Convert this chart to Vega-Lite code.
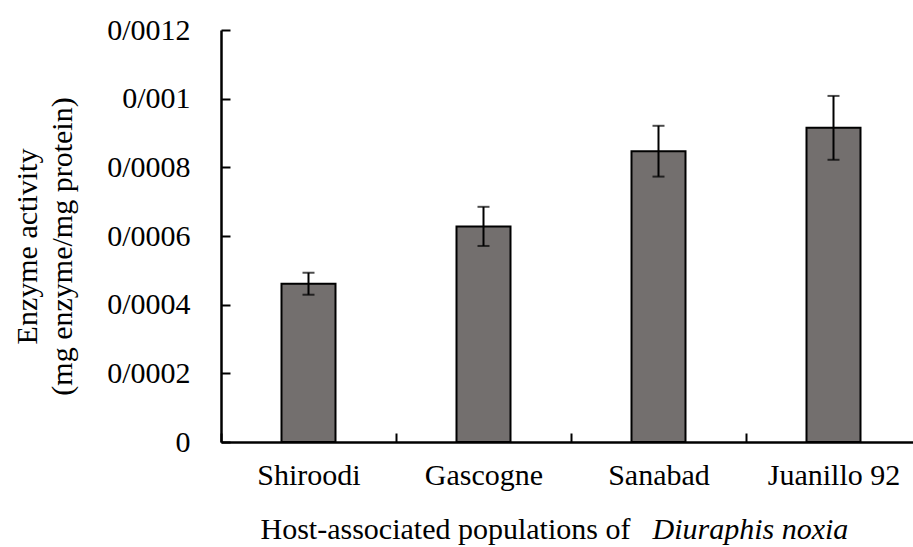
{
  "$schema": "https://vega.github.io/schema/vega-lite/v6.json",
  "autosize": {"type": "none"},
  "padding": {"left": 221, "top": 30, "right": 0, "bottom": 105},
  "width": 692,
  "height": 412,
  "background": "white",
  "config": {
    "view": {"stroke": null},
    "font": "Liberation Serif",
    "axis": {"grid": false}
  },
  "data": {
    "values": [
      {"population": "Shiroodi", "activity": 0.000461, "err": 0.000032},
      {"population": "Gascogne", "activity": 0.000628, "err": 0.000057},
      {"population": "Sanabad", "activity": 0.000847, "err": 0.000074},
      {"population": "Juanillo 92", "activity": 0.000915, "err": 0.000093}
    ]
  },
  "resolve": {"axis": {"x": "independent"}},
  "layer": [
    {
      "mark": {"type": "bar", "width": 54, "fill": "#736f6e", "stroke": "black", "strokeWidth": 2},
      "encoding": {
        "x": {
          "field": "population", "type": "nominal", "sort": null,
          "scale": {"range": [0, 700], "paddingInner": 0, "paddingOuter": 0},
          "axis": {
            "orient": "bottom",
            "title": "Host-associated populations of",
            "titleFont": "Liberation Serif", "titleFontSize": 30, "titleFontWeight": "normal", "titleColor": "black",
            "titleAlign": "left", "titleX": 39, "titleY": 96, "titleBaseline": "alphabetic",
            "labelAngle": 0, "labelFont": "Liberation Serif", "labelFontSize": 30, "labelColor": "black",
            "labelPadding": 27,
            "tickBand": "extent", "tickSize": -9, "tickColor": "black", "tickWidth": 2,
            "domainColor": "black", "domainWidth": 2.5
          }
        },
        "y": {
          "field": "activity", "type": "quantitative",
          "scale": {"domain": [0, 0.0012]},
          "axis": {
            "values": [0, 0.0002, 0.0004, 0.0006, 0.0008, 0.001, 0.0012],
            "labelExpr": "replace(toString(datum.value), '.', '/')",
            "title": ["Enzyme activity", "(mg enzyme/mg protein)"],
            "titleFont": "Liberation Serif", "titleFontSize": 30, "titleFontWeight": "normal", "titleColor": "black",
            "titleLineHeight": 35, "titleBaseline": "middle", "titleX": -194, "titleY": 216, "titleAngle": -90, "titleAlign": "center",
            "labelFont": "Liberation Serif", "labelFontSize": 30, "labelColor": "black",
            "labelPadding": 40,
            "tickSize": -9, "tickColor": "black", "tickWidth": 2,
            "domainColor": "black", "domainWidth": 2.5
          }
        }
      }
    },
    {
      "mark": {"type": "errorbar", "ticks": {"size": 12, "thickness": 2, "color": "black"}, "rule": {"strokeWidth": 2, "color": "black"}},
      "encoding": {
        "x": {
          "field": "population", "type": "nominal", "sort": null,
          "axis": {
            "orient": "bottom",
            "title": "Diuraphis noxia",
            "titleFont": "Liberation Serif", "titleFontSize": 30, "titleFontWeight": "normal", "titleFontStyle": "italic", "titleColor": "black",
            "titleAlign": "left", "titleX": 431, "titleY": 96, "titleBaseline": "alphabetic",
            "labels": false, "ticks": false, "domain": false
          }
        },
        "y": {
          "field": "activity", "type": "quantitative",
          "axis": {"title": ["Enzyme activity", "(mg enzyme/mg protein)"]}
        },
        "yError": {"field": "err"}
      }
    }
  ]
}
